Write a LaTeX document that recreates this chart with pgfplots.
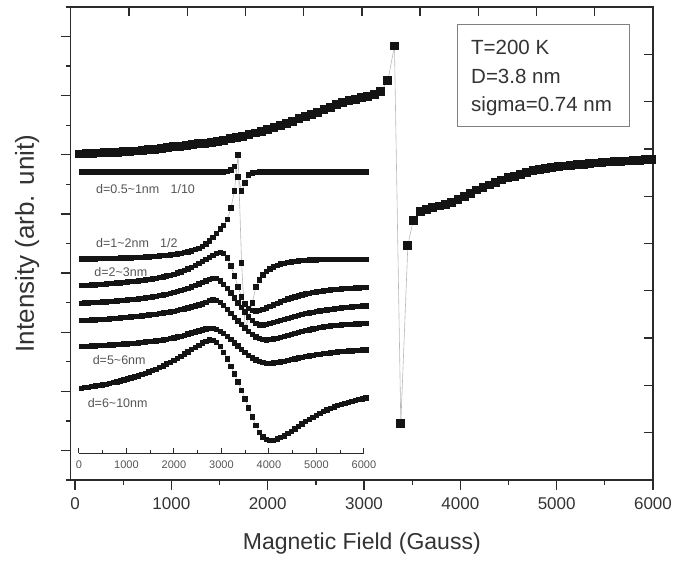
\documentclass[border=0pt]{standalone}
\usepackage{pgfplots}
\pgfplotsset{compat=1.18}
\usepackage{pgfplotstable}
\usepackage{fontspec}
\setmainfont{Liberation Sans}

\definecolor{framegray}{HTML}{2B2B2B}
\definecolor{labelgray}{HTML}{555555}
\definecolor{textgray}{HTML}{333333}

% ESR spectrum of the nanoparticle ensemble (T = 200 K)
\pgfplotstableread{
x y
50 11.03
115 11.04
180 11.05
245 11.06
310 11.07
375 11.08
440 11.09
505 11.10
570 11.11
635 11.13
700 11.15
765 11.17
830 11.19
895 11.21
960 11.24
1025 11.27
1090 11.29
1155 11.31
1220 11.34
1285 11.37
1350 11.39
1415 11.42
1480 11.45
1545 11.49
1610 11.54
1675 11.59
1740 11.63
1805 11.68
1870 11.74
1935 11.79
2000 11.85
2065 11.92
2130 11.98
2195 12.06
2260 12.14
2325 12.22
2390 12.30
2455 12.37
2520 12.44
2585 12.52
2650 12.60
2715 12.69
2780 12.77
2845 12.83
2910 12.88
2975 12.93
3040 12.97
3105 13.03
3175 13.15
3247 13.50
3316 14.68
3382 1.90
3455 7.93
3510 8.78
3583 9.08
3650 9.16
3715 9.21
3780 9.27
3845 9.33
3910 9.40
3975 9.48
4040 9.59
4105 9.70
4170 9.81
4235 9.90
4300 9.98
4365 10.07
4430 10.15
4495 10.22
4560 10.27
4625 10.33
4690 10.40
4755 10.46
4820 10.50
4885 10.54
4950 10.57
5015 10.60
5080 10.62
5145 10.64
5210 10.66
5275 10.68
5340 10.70
5405 10.72
5470 10.74
5535 10.76
5600 10.77
5665 10.78
5730 10.79
5795 10.81
5860 10.82
5925 10.84
5990 10.85
}\mainspec

% size-resolved components (offset for clarity)
\pgfplotstableread{
x A B C D E F G
50 281 194 167.3 149.7 132.3 106.3 64.7
125 281 194 167.5 149.9 132.5 106.5 65.2
200 281 194 167.7 150.1 132.7 106.7 65.7
275 281 194 167.9 150.3 132.9 106.9 66.2
350 281 194 168.1 150.5 133.1 107.1 66.8
425 281 194.2 168.3 150.7 133.3 107.3 67.4
500 281 194.3 168.6 150.9 133.5 107.5 68
575 281 194.4 168.9 151.1 133.7 107.7 68.7
650 281 194.5 169.2 151.4 134 107.9 69.4
725 281 194.6 169.5 151.7 134.3 108.1 70.2
800 281 194.7 169.8 152 134.6 108.3 71
875 281 194.8 170.1 152.3 134.9 108.5 71.9
950 281 194.9 170.5 152.6 135.2 108.8 72.8
1025 281 195 170.9 152.9 135.5 109.1 73.8
1100 281 195.1 171.3 153.3 135.8 109.4 74.8
1175 281 195.2 171.7 153.7 136.2 109.7 75.9
1250 281 195.4 172.1 154.1 136.6 110 77
1325 281 195.6 172.5 154.5 137 110.4 78.2
1400 281 195.8 173 155 137.4 110.8 79.5
1475 281 196 173.5 155.5 137.8 111.2 80.8
1550 281 196.3 174 156 138.2 111.6 82.2
1625 281 196.6 174.6 156.6 138.7 112.1 83.7
1700 281 196.9 175.3 157.2 139.2 112.6 85.3
1775 281 197.2 176 157.9 139.8 113.1 87
1850 281 197.6 176.8 158.6 140.4 113.7 88.8
1925 281 198 177.7 159.4 141 114.3 90.7
2000 281 198.5 178.7 160.3 141.7 115 92.6
2075 281 199 179.8 161.3 142.4 115.8 94.6
2150 281 199.6 181 162.3 143.2 116.7 96.7
2225 281 200.2 182.4 163.4 144 117.7 98.8
2300 281 201 184 164.6 144.9 118.8 101
2375 281 202 185.6 165.9 145.8 119.9 103.2
2450 281 203.2 187.3 167.3 146.8 121 105.5
2525 281 204.6 189.2 168.8 147.9 122.1 107.7
2600 281 206.5 191.2 170.4 149.1 123.1 109.8
2675 281 209 193.3 172 150.6 124 111.6
2750 281 212 195.5 173.6 152.2 124.6 112.8
2825 281 215.5 197.6 174.6 153 124.5 112.7
2900 281 219.5 199.4 174.2 152.4 123.4 110.5
2975 281 224 200.5 172 150.5 121.6 106.2
3050 281 227.5 199.5 168.5 147.5 119.2 100.5
3125 281.5 233.5 195 164.5 143.5 116.3 94
3200 283 245 187 160 139.5 113.2 86.6
3275 286.5 262 177 155 135.5 110 79
3350 276 298 166 150 132 106.8 71
3425 262 190 156 145.5 128.5 103.6 62.7
3500 270 125 149 141 125 100.5 54
3575 278 136 144.5 136.5 121.5 97.5 45
3650 280 150 142.5 132.5 118.5 95 36
3725 280.5 166 142 129.5 116 93 27.5
3800 281 173 142.5 128 114.2 91.4 20.5
3875 281 178 143.5 128 113.2 90.3 15.8
3950 281 181.5 145 128.5 113 89.7 13.2
4025 281 184 146.5 129.3 113.3 89.6 12.3
4100 281 186 148 130.2 113.9 89.9 12.7
4175 281 187.5 149.5 131.2 114.6 90.4 13.8
4250 281 188.8 151 132.3 115.4 91 15.2
4325 281 189.7 152.5 133.4 116.3 91.7 17
4400 281 190.5 153.8 134.5 117.3 92.5 19.2
4475 281 191.1 155 135.6 118.3 93.3 21.6
4550 281 191.6 156.1 136.6 119.3 94.1 24.1
4625 281 192 157.1 137.5 120.3 94.9 26.6
4700 281 192.3 158 138.4 121.3 95.7 29
4775 281 192.6 158.8 139.2 122.2 96.4 31.3
4850 281 192.8 159.6 140 123.1 97.1 33.5
4925 281 193 160.3 140.7 123.9 97.7 35.6
5000 281 193.1 161 141.3 124.6 98.2 37.6
5075 281 193.2 161.6 141.9 125.2 98.7 39.5
5150 281 193.3 162.1 142.5 125.8 99.2 41.3
5225 281 193.4 162.6 143 126.3 99.7 43
5300 281 193.5 163 143.5 126.8 100.1 44.5
5375 281 193.5 163.4 144 127.2 100.5 45.9
5450 281 193.6 163.7 144.4 127.6 100.9 47.2
5525 281 193.6 164 144.8 127.9 101.2 48.4
5600 281 193.6 164.3 145.2 128.2 101.5 49.5
5675 281 193.7 164.5 145.6 128.5 101.8 50.5
5750 281 193.7 164.7 145.9 128.7 102.1 51.4
5825 281 193.7 164.9 146.2 128.9 102.4 52.3
5900 281 193.7 165.1 146.5 129.1 102.6 53.2
5975 281 193.7 165.3 146.8 129.3 102.8 54
6040 281 193.7 165.4 147 129.4 103 54.8
}\insetspec

\pgfplotsset{
  specmarks/.style={
    draw=gray!55, line width=0.6pt,
    mark=square*, mark size=#1,
    mark options={solid, fill=black!92, draw=black!92, line width=0pt}
  }
}
\tikzset{
  sizelabel/.style={anchor=west, inner sep=0pt, text=labelgray,
    font=\fontsize{12.5}{12.5}\selectfont},
  boxtext/.style={anchor=base west, inner sep=0pt, text=textgray,
    font=\fontsize{20.5}{20.5}\selectfont}
}

\begin{document}
\begin{tikzpicture}[x=1pt,y=1pt]
\path (-70.7,-81) rectangle (620.3,480);

% main spectrum
\begin{axis}[
  at={(0,0)}, anchor=south west,
  scale only axis, width=582.3pt, height=473pt,
  xmin=-45, xmax=6000, ymin=0, ymax=16,
  axis line style={framegray, line width=1.4pt},
  xtick={0,1000,...,6000},
  minor xtick={500,1500,...,5500},
  ytick={1,3,...,15},
  minor ytick={0,2,...,16},
  yticklabels={},
  xtick pos=left, ytick pos=left,
  tick align=outside,
  major tick length=10pt, minor tick length=5pt,
  every tick/.style={framegray, line width=1.3pt},
  scaled x ticks=false,
  /pgf/number format/1000 sep={},
  /pgf/number format/assume math mode=true,
  xticklabel shift=4pt,
  xticklabel style={font=\fontsize{17}{17}\selectfont, text=textgray},
  xlabel={Magnetic Field (Gauss)},
  ylabel={Intensity (arb. unit)},
  xlabel style={font=\fontsize{23}{23}\selectfont, text=textgray,
    at={(axis description cs:0.5,-0.1459)}, anchor=base},
  ylabel style={font=\fontsize{26}{26}\selectfont, text=textgray,
    at={(axis description cs:-0.075,0.5)}, anchor=center},
]
\addplot[specmarks=3.9pt] table[x=x, y=y] {\mainspec};
\end{axis}

% inward ticks on the top and right edges of the frame
\begin{axis}[
  at={(0,0)}, anchor=south west,
  scale only axis, width=582.3pt, height=473pt,
  xmin=0, xmax=10, ymin=0, ymax=10,
  axis line style={draw=none},
  xtick={1,...,9}, ytick={1,...,9},
  xticklabels={}, yticklabels={},
  xtick pos=right, ytick pos=right,
  tick align=inside,
  major tick length=9pt,
  every tick/.style={framegray, line width=1.3pt},
]
\end{axis}

% size-resolved spectra
\begin{axis}[
  at={(17.3,27)}, anchor=south west,
  scale only axis, width=285pt, height=330pt,
  xmin=0, xmax=6000, ymin=0, ymax=330,
  clip=false,
  axis x line*=bottom, axis y line=none,
  x axis line style={-, framegray, line width=0.9pt},
  xtick={0,1000,...,6000},
  minor xtick={500,1500,...,5500},
  tick align=inside,
  major tick length=5pt, minor tick length=3pt,
  every tick/.style={framegray, line width=0.9pt},
  scaled x ticks=false,
  /pgf/number format/1000 sep={},
  /pgf/number format/assume math mode=true,
  xticklabel shift=4pt,
  xticklabel style={font=\fontsize{11}{11}\selectfont, text=labelgray},
]
\addplot[specmarks=2.2pt] table[x=x, y=A] {\insetspec};
\addplot[specmarks=2.2pt] table[x=x, y=B] {\insetspec};
\addplot[specmarks=2.2pt] table[x=x, y=C] {\insetspec};
\addplot[specmarks=2.2pt] table[x=x, y=D] {\insetspec};
\addplot[specmarks=2.2pt] table[x=x, y=E] {\insetspec};
\addplot[specmarks=2.2pt] table[x=x, y=F] {\insetspec};
\addplot[specmarks=2.2pt] table[x=x, y=G] {\insetspec};
\node[sizelabel] at (axis cs:358,264) {d=0.5\textasciitilde 1nm\hspace{0.9em}1/10};
\node[sizelabel] at (axis cs:358,210) {d=1\textasciitilde 2nm\hspace{0.9em}1/2};
\node[sizelabel] at (axis cs:323,181) {d=2\textasciitilde 3nm};
\node[sizelabel] at (axis cs:288,93) {d=5\textasciitilde 6nm};
\node[sizelabel] at (axis cs:182,50) {d=6\textasciitilde 10nm};
\end{axis}

% parameter box
\draw[gray, line width=0.9pt] (387,354) rectangle (558.6,456);
\node[boxtext] at (400.3,425) {T=200 K};
\node[boxtext] at (400.3,396.7) {D=3.8 nm};
\node[boxtext] at (400.3,368.3) {sigma=0.74 nm};
\end{tikzpicture}
\end{document}
